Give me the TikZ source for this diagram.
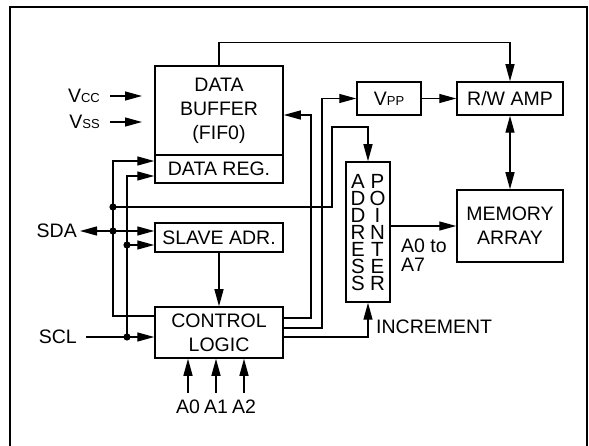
\documentclass[tikz,border=0pt]{standalone}
\usepackage{fontspec}
\setmainfont{Liberation Sans}
\usetikzlibrary{arrows.meta}
\newcommand\subsz{\fontsize{13}{13}\selectfont}
\begin{document}
\begin{tikzpicture}[x=1pt,y=-1pt,
  box/.style={draw, line width=1.5pt, inner sep=0pt, align=center, font=\fontsize{19.5}{24}\selectfont},
  lbl/.style={inner sep=0pt, font=\fontsize{19.5}{24}\selectfont},
  letter/.style={inner sep=0pt, font=\fontsize{20.5}{20.5}\selectfont},
  wire/.style={line width=1.3pt},
  arr/.style={wire, -{Triangle[length=17pt,width=9pt]}},
  darr/.style={wire, {Triangle[length=17pt,width=9pt]}-{Triangle[length=17pt,width=9pt]}},
  jdot/.style={circle, fill, inner sep=0pt, minimum size=7pt}]
\clip (0,0) rectangle (589,446);
\draw[line width=2.6pt] (10,460) -- (10,7) -- (587,7) -- (587,460);

% boxes
\node[box, minimum width=128pt, minimum height=89pt] (buf) at (219,110.5) {DATA\\BUFFER\\(FIF0)};
\node[box, minimum width=128pt, minimum height=28pt] (reg) at (219,169) {DATA REG.};
\node[box, minimum width=64pt, minimum height=33pt] (vpp) at (389,98.5) {V{\subsz PP}};
\node[box, minimum width=106pt, minimum height=33pt] (rw) at (510,98.5) {R/W AMP};
\node[box, minimum width=44pt, minimum height=140pt] (addr) at (368,232) {};
\foreach \ch [count=\i] in {A,D,D,R,E,S,S}
  \node[letter] (la\i) at (358,{181+17*(\i-1)}) {\ch};
\foreach \ch [count=\i] in {P,O,I,N,T,E,R}
  \node[letter] (lb\i) at (377.5,{181+17*(\i-1)}) {\ch};
\node[box, minimum width=106pt, minimum height=72pt] (mem) at (510,226) {MEMORY\\ARRAY};
\node[box, minimum width=128pt, minimum height=29pt] (slave) at (219,237.5) {SLAVE ADR.};
\node[box, minimum width=128pt, minimum height=51pt] (ctrl) at (219,332.5) {CONTROL\\LOGIC};

% labels
\node[lbl, anchor=east] (vcc) at (100,96) {V{\subsz CC}};
\node[lbl, anchor=east] (vss) at (100,122) {V{\subsz SS}};
\coordinate (vccend) at (142,96);
\coordinate (vssend) at (142,122);
\node[lbl, anchor=east] (sda) at (77,231) {SDA};
\node[lbl, anchor=east] (scl) at (77,337) {SCL};
\node[lbl] (a0) at (188,407) {A0};
\node[lbl] (a1) at (216,407) {A1};
\node[lbl] (a2) at (244,407) {A2};
\node[lbl, anchor=west] (inc) at (376,327) {INCREMENT};
\node[lbl, anchor=west, align=left, font=\fontsize{19.5}{19}\selectfont] (a0to) at (401,255.5) {A0 to\\A7};

% junctions
\coordinate (j1) at (113,207);
\coordinate (j2) at (113,231);
\coordinate (j3) at (127,245);
\coordinate (j4) at (127,337);

% wires
\draw[arr] ([xshift=10pt]vcc.east) -- (vccend);
\draw[arr] ([xshift=10pt]vss.east) -- (vssend);
\draw[arr] (buf.north) -- ++(0,-23) -| (rw.north);
\draw[arr] (vpp) -- (rw);
\draw[darr] (rw) -- (mem);
\draw[arr] (addr.east |- mem.west) -- (mem.west);
\draw[arr] (ctrl.east |- 0,318) -- (311,318) |- (buf.east |- 0,115);
\draw[arr] (ctrl.east |- 0,328) -- (322,328) |- (vpp.west);
\draw[arr] (ctrl.east |- 0,337) -| (addr.south);
\draw[arr] (j1) -- (332,207) -- (332,127) -| (addr.north);
\draw[arr] (ctrl.west |- 0,316) -| (113,161) -- (reg.west |- 0,161);
\draw[arr] (j4) -- (127,176) -- (reg.west |- 0,176);
\draw[darr] ([xshift=3pt]sda.east) -- (slave.west |- j2);
\draw[arr] (j3) -- (slave.west |- j3);
\draw[arr] ([xshift=9pt]scl.east) -- (ctrl.west |- j4);
\draw[arr] (slave) -- (ctrl);
\draw[arr] ([yshift=7pt]a0.north) -- (a0.north |- ctrl.south);
\draw[arr] ([yshift=7pt]a1.north) -- (a1.north |- ctrl.south);
\draw[arr] ([yshift=7pt]a2.north) -- (a2.north |- ctrl.south);

% dots
\foreach \j in {j1,j2,j3,j4} \fill (\j) circle (3.6pt);
\end{tikzpicture}
\end{document}
